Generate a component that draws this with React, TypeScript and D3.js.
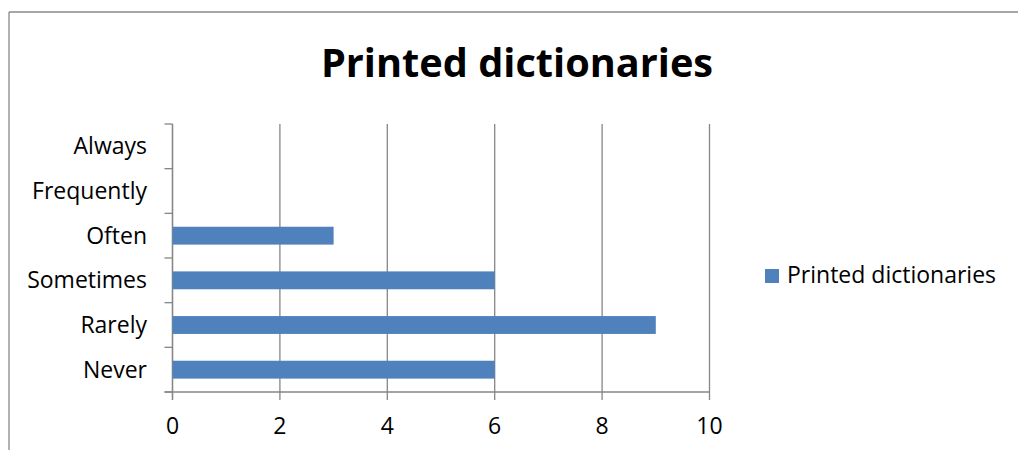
import React from "react";
import * as d3 from "d3";

const categories = ["Never", "Rarely", "Sometimes", "Often", "Frequently", "Always"];
const values = [6, 9, 6, 3, 0, 0];
const xTicks = [0, 2, 4, 6, 8, 10];
const seriesName = "Printed dictionaries";
const title = "Printed dictionaries";

const W = 1018;
const H = 450;
const FONT = "'Open Sans', Lato, sans-serif";
const BAR = "#4f81bd";
const GRID = "#868686";

export default function App() {
  const left = 172.5;
  const right = 709.5;
  const top = 124;
  const bottom = 392;

  const x = d3.scaleLinear().domain([0, 10]).range([left, right]);
  const y = d3
    .scaleBand<string>()
    .domain([...categories].reverse())
    .range([top, bottom])
    .paddingInner(0.6)
    .paddingOuter(0.3);
  const bandStep = (bottom - top) / categories.length;
  const boundaries = d3.range(categories.length + 1).map((i) => top + i * bandStep);

  return (
    <div style={{ position: "fixed", left: 0, top: 0 }}>
      <svg width={W} height={H} style={{ display: "block", background: "#fff" }}>
        {/* chart frame */}
        <line x1={9} y1={12} x2={9} y2={H} stroke="#898989" strokeWidth={1.3} />
        <line x1={9} y1={12} x2={W} y2={12} stroke="#898989" strokeWidth={1.3} />

        <text
          x={517}
          y={77}
          textAnchor="middle"
          fontFamily={FONT}
          fontWeight="bold"
          fontSize={39.7}
          fill="#000"
        >
          {title}
        </text>

        {/* vertical gridlines */}
        {xTicks.map((t) => (
          <line key={"g" + t} x1={x(t)} x2={x(t)} y1={top} y2={bottom + 8} stroke={GRID} strokeWidth={1.3} />
        ))}

        {/* category axis with ticks */}
        <line x1={left} x2={left} y1={top} y2={bottom + 8} stroke={GRID} strokeWidth={1.3} />
        {boundaries.map((b, i) => (
          <line key={"t" + i} x1={left - 8} x2={left} y1={b} y2={b} stroke={GRID} strokeWidth={1.3} />
        ))}
        <line x1={left - 8} x2={right} y1={bottom} y2={bottom} stroke={GRID} strokeWidth={1.3} />

        {/* bars */}
        {categories.map((c, i) =>
          values[i] > 0 ? (
            <rect
              key={c}
              x={x(0)}
              y={y(c)!}
              width={x(values[i]) - x(0)}
              height={y.bandwidth()}
              fill={BAR}
            />
          ) : null
        )}

        {/* category labels */}
        {categories.map((c) => (
          <text
            key={"l" + c}
            x={147}
            y={y(c)! + y.bandwidth() / 2}
            dy="0.35em"
            textAnchor="end"
            fontFamily={FONT}
            fontSize={23}
            fill="#000"
          >
            {c}
          </text>
        ))}

        {/* value labels */}
        {xTicks.map((t) => (
          <text
            key={"x" + t}
            x={x(t)}
            y={434}
            textAnchor="middle"
            fontFamily={FONT}
            fontSize={23}
            fill="#000"
          >
            {t}
          </text>
        ))}

        {/* legend */}
        <rect x={765} y={269} width={14} height={14} fill={BAR} />
        <text x={787} y={283} fontFamily={FONT} fontSize={23} fill="#000">
          {seriesName}
        </text>
      </svg>
    </div>
  );
}
